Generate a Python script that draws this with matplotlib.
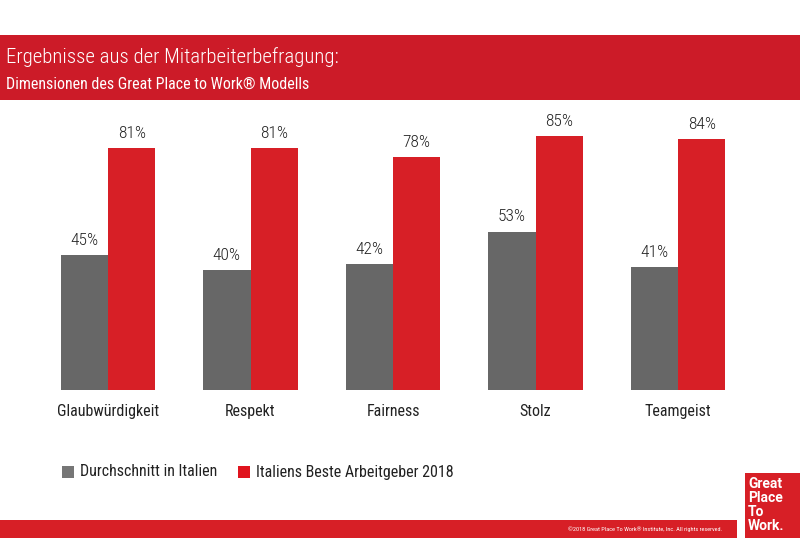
import matplotlib.pyplot as plt
from matplotlib.patches import Rectangle
import numpy as np

categories = ['Glaubwürdigkeit', 'Respekt', 'Fairness', 'Stolz', 'Teamgeist']
italy_avg = [45, 40, 42, 53, 41]
best_2018 = [81, 81, 78, 85, 84]
series_names = ['Durchschnitt in Italien', 'Italiens Beste Arbeitgeber 2018']

GRAY = '#676767'
RED = '#d71f26'
BAND = '#cc1b28'
FONT = ['Roboto Condensed', 'DejaVu Sans']

plt.rcParams['font.family'] = FONT

W, H = 800, 538
fig = plt.figure(figsize=(W / 100, H / 100), dpi=100)
fig.patch.set_facecolor('white')

# header band
fig.patches.append(Rectangle((0, 1 - 100 / H), 1, 65 / H, transform=fig.transFigure,
                             facecolor=BAND, edgecolor='none', zorder=0))
fig.text(6 / W, 1 - 57 / H, 'Ergebnisse aus der Mitarbeiterbefragung:', color='white',
         fontsize=15, fontweight='light', va='center', ha='left')
fig.text(6 / W, 1 - 84 / H, 'Dimensionen des Great Place to Work® Modells', color='white',
         fontsize=11.5, va='center', ha='left')

# bars
ax = fig.add_axes([36.75 / W, 148 / H, 712.5 / W, 299 / H])
x = np.arange(len(categories))
bw = 0.333
ax.bar(x - bw / 2, italy_avg, bw, color=GRAY, label=series_names[0])
ax.bar(x + bw / 2, best_2018, bw, color=RED, label=series_names[1])
for xi, v in zip(x - bw / 2, italy_avg):
    ax.text(xi, v + 2.4, f'{v}%', ha='center', va='bottom', fontsize=12.5,
            fontweight='light', color='#222222')
for xi, v in zip(x + bw / 2, best_2018):
    ax.text(xi, v + 2.4, f'{v}%', ha='center', va='bottom', fontsize=12.5,
            fontweight='light', color='#222222')
ax.set_xlim(-0.5, len(categories) - 0.5)
ax.set_ylim(0, 100)
ax.set_xticks(x)
ax.set_xticklabels(categories, fontsize=11.5, color='#222222')
ax.tick_params(axis='x', length=0, pad=10)
ax.set_yticks([])
for s in ax.spines.values():
    s.set_visible(False)

# legend
leg_y = 1 - 472 / H
fig.patches.append(Rectangle((62 / W, leg_y - 6 / H), 12 / W, 12 / H, transform=fig.transFigure,
                             facecolor='#767676', edgecolor='none'))
fig.text(80 / W, leg_y, series_names[0], fontsize=11.5, va='center', ha='left', color='#222222')
fig.patches.append(Rectangle((238 / W, leg_y - 6 / H), 12 / W, 12 / H, transform=fig.transFigure,
                             facecolor='#e0141e', edgecolor='none'))
fig.text(256 / W, leg_y, series_names[1], fontsize=11.5, va='center', ha='left', color='#222222')

# footer band and logo
fig.patches.append(Rectangle((0, 0), 737 / W, 18 / H, transform=fig.transFigure,
                             facecolor=RED, edgecolor='none'))
fig.text(722 / W, 9 / H, '©2018 Great Place To Work® Institute, Inc. All rights reserved.',
         fontsize=4.5, color='white', ha='right', va='center')
fig.patches.append(Rectangle((745 / W, 0), 55 / W, 65 / H, transform=fig.transFigure,
                             facecolor=RED, edgecolor='none'))
for i, word in enumerate(['Great', 'Place', 'To', 'Work.']):
    fig.text(748 / W, 1 - (484 + 14 * i) / H, word, fontsize=10, fontweight='bold',
             color='white', ha='left', va='center', family=['Roboto', 'DejaVu Sans'])

fig.savefig('out.png', dpi=100)
